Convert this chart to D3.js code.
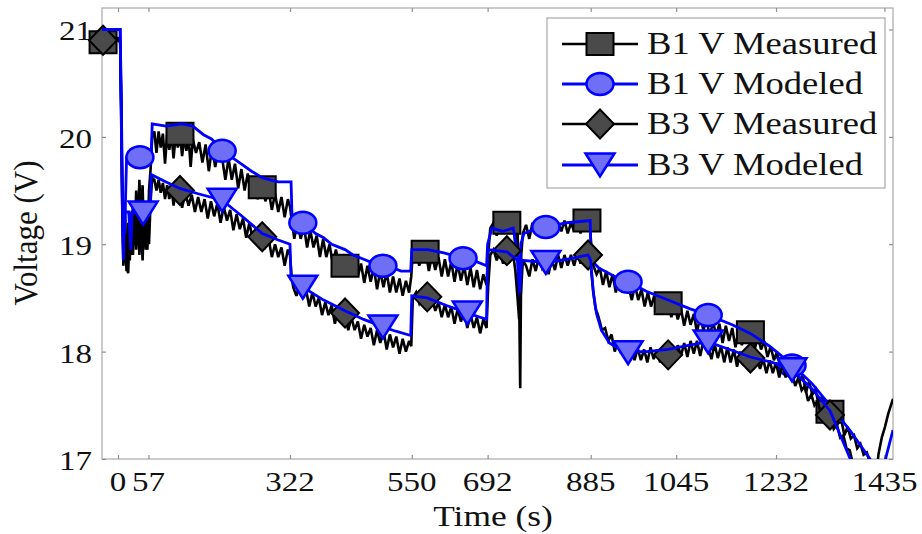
<!DOCTYPE html>
<html><head><meta charset="utf-8">
<script src="https://cdn.jsdelivr.net/npm/d3@7"></script>
<style>body{margin:0;background:#fff}svg{display:block}</style>
</head><body>
<script>
// ---------------- data ----------------
const xTicks = [0, 57, 322, 550, 692, 885, 1045, 1232, 1435];
const xTickLabels = ["0", "57", "322", "550", "692", "885", "1045", "1232", "1435"];
const yTicks = [17, 18, 19, 20, 21];
const seriesNames = ["B1 V Measured", "B1 V Modeled", "B3 V Measured", "B3 V Modeled"];

const b1Measured = [[-30,20.9],[-20,20.9],[-10,20.9],[0,20.92],[4,20.9],[6,20.3],[8,19.4],[10,18.9],[13,19.3],[16,18.8],[19,18.73],[22,19.2],[25,18.9],[28,19.4],[31,19.0],[34,19.5],[37,19.1],[40,19.6],[43,19.2],[46,19.55],[49,19.0],[52,19.4],[55,18.95],[58,19.5],[61,19.7],[64,20.0],[68,20.05],[72,19.85],[76,20.05],[80,19.9],[84,20.03],[88,19.75],[92,20.02],[96,19.88],[100,20.03],[104,19.8],[108,20.02],[112,19.9],[116,20.03],[120,19.82],[124,20.0],[128,19.87],[132,20.0],[136,19.72],[140,19.98],[146,19.85],[152,19.95],[158,19.76],[164,19.93],[170,19.68],[176,19.9],[182,19.72],[188,19.88],[195,19.8],[201,19.6],[207,19.8],[213,19.6],[219,19.75],[225,19.52],[231,19.7],[237,19.5],[243,19.66],[249,19.44],[255,19.6],[261,19.42],[270,19.53],[276,19.4],[282,19.5],[288,19.32],[294,19.47],[300,19.3],[306,19.44],[312,19.25],[318,19.42],[322,19.35],[326,19.2],[330,19.05],[336,19.2],[342,19.05],[348,19.17],[354,18.97],[360,19.13],[366,18.97],[372,19.08],[378,18.88],[384,19.05],[390,18.88],[396,19.0],[402,18.82],[408,18.95],[414,18.8],[420,18.9],[425,18.8],[431,18.88],[437,18.7],[443,18.85],[449,18.7],[455,18.82],[461,18.64],[467,18.8],[473,18.65],[479,18.78],[485,18.58],[491,18.75],[497,18.6],[503,18.74],[509,18.55],[515,18.7],[521,18.55],[527,18.68],[533,18.52],[539,18.66],[545,18.55],[549,18.7],[552,18.93],[558,18.95],[564,18.8],[570,18.92],[576,18.93],[582,18.75],[588,18.9],[594,18.76],[600,18.88],[606,18.7],[612,18.86],[618,18.7],[624,18.84],[630,18.65],[636,18.82],[642,18.66],[648,18.8],[654,18.62],[660,18.78],[666,18.6],[672,18.76],[678,18.58],[684,18.72],[690,18.62],[693,18.9],[697,19.15],[703,19.2],[709,19.08],[715,19.2],[721,19.1],[728,19.2],[734,19.12],[740,19.18],[744,19.0],[748,19.15],[751,18.5],[753,17.66],[755,18.9],[758,19.1],[764,19.18],[770,19.05],[776,19.2],[782,19.1],[788,19.22],[794,19.08],[800,19.2],[806,19.1],[812,19.22],[818,19.1],[824,19.2],[830,19.12],[836,19.22],[842,19.1],[848,19.2],[854,19.12],[860,19.22],[866,19.1],[872,19.22],[878,19.22],[884,19.15],[887,18.9],[890,18.8],[896,18.72],[902,18.78],[908,18.62],[914,18.75],[920,18.6],[926,18.72],[932,18.55],[938,18.68],[944,18.55],[950,18.66],[956,18.6],[962,18.48],[968,18.62],[974,18.48],[980,18.58],[986,18.42],[992,18.55],[998,18.42],[1004,18.52],[1010,18.36],[1016,18.5],[1022,18.38],[1030,18.45],[1036,18.32],[1042,18.44],[1048,18.3],[1054,18.4],[1060,18.24],[1066,18.38],[1072,18.25],[1078,18.35],[1084,18.18],[1090,18.33],[1096,18.2],[1102,18.3],[1108,18.14],[1114,18.28],[1120,18.15],[1126,18.26],[1132,18.08],[1138,18.24],[1144,18.1],[1150,18.22],[1156,18.04],[1162,18.2],[1168,18.06],[1174,18.17],[1180,18.1],[1186,18.18],[1192,18.02],[1198,18.14],[1204,18.02],[1210,18.1],[1216,17.95],[1222,18.05],[1228,17.92],[1234,18.0],[1240,17.84],[1246,17.95],[1252,17.82],[1258,17.9],[1264,17.74],[1270,17.84],[1276,17.72],[1282,17.78],[1288,17.62],[1294,17.72],[1300,17.6],[1306,17.65],[1312,17.5],[1318,17.58],[1324,17.46],[1330,17.5],[1336,17.36],[1342,17.44],[1348,17.33],[1354,17.37],[1360,17.22],[1366,17.3],[1372,17.19],[1378,17.22],[1384,17.1],[1390,17.14],[1396,17.04],[1402,17.06],[1408,16.96],[1414,16.98],[1420,16.88],[1424,17.05],[1430,17.2],[1436,17.3],[1442,17.42],[1451,17.56]];

const b1Modeled = [[-30,21.0],[4,21.0],[6,20.4],[8,19.6],[10,19.0],[12,18.85],[14,19.4],[16,19.8],[30,19.78],[45,19.8],[62,19.8],[64,20.12],[90,20.1],[120,20.12],[140,20.1],[160,20.02],[175,19.98],[195,19.88],[210,19.82],[230,19.75],[250,19.68],[270,19.62],[285,19.6],[300,19.58],[324,19.58],[326,19.22],[346,19.2],[370,19.1],[385,19.06],[400,19.0],[425,18.95],[440,18.9],[460,18.86],[480,18.82],[496,18.8],[515,18.78],[530,18.75],[548,18.75],[550,18.95],[580,18.95],[610,18.92],[646,18.87],[670,18.84],[690,18.8],[692,19.0],[700,19.15],[720,19.12],[740,19.15],[748,18.9],[752,18.4],[754,19.0],[760,19.1],[780,19.14],[801,19.16],[840,19.2],[884,19.22],[886,18.85],[900,18.78],[930,18.7],[955,18.65],[990,18.56],[1030,18.48],[1070,18.4],[1105,18.34],[1150,18.25],[1184,18.17],[1220,18.05],[1262,17.88],[1300,17.7],[1333,17.5],[1370,17.27],[1408,17.0],[1422,16.85],[1432,16.9],[1438,17.02],[1451,17.27]];

const b3Measured = [[-30,20.88],[-20,20.88],[-10,20.9],[0,20.9],[4,20.88],[6,20.2],[8,19.3],[10,18.8],[13,19.1],[16,18.75],[19,19.2],[22,18.85],[25,19.3],[28,18.9],[31,19.35],[34,18.95],[37,19.3],[40,18.9],[43,19.25],[46,18.85],[49,19.3],[52,18.95],[55,19.35],[58,19.0],[61,19.4],[64,19.62],[68,19.6],[72,19.5],[76,19.6],[80,19.48],[84,19.57],[88,19.42],[92,19.55],[96,19.42],[100,19.53],[104,19.36],[108,19.52],[112,19.4],[116,19.5],[120,19.34],[126,19.48],[132,19.36],[138,19.46],[144,19.3],[150,19.44],[156,19.3],[162,19.42],[168,19.24],[174,19.4],[180,19.26],[186,19.38],[192,19.2],[198,19.35],[204,19.22],[210,19.32],[216,19.13],[222,19.28],[228,19.14],[234,19.24],[240,19.06],[246,19.2],[252,19.05],[258,19.15],[264,18.98],[270,19.07],[276,18.98],[282,19.05],[288,18.88],[294,19.0],[300,18.88],[306,18.97],[312,18.8],[318,18.95],[322,18.9],[325,18.7],[328,18.6],[334,18.52],[340,18.62],[346,18.5],[352,18.58],[358,18.42],[364,18.55],[370,18.42],[376,18.5],[382,18.34],[388,18.46],[394,18.34],[400,18.43],[406,18.26],[412,18.4],[418,18.28],[425,18.36],[431,18.2],[437,18.32],[443,18.2],[449,18.28],[455,18.12],[461,18.25],[467,18.14],[473,18.22],[479,18.06],[485,18.2],[491,18.08],[497,18.2],[503,18.02],[509,18.16],[515,18.04],[521,18.14],[527,17.98],[533,18.12],[539,18.0],[545,18.1],[549,18.05],[552,18.5],[558,18.55],[564,18.45],[570,18.52],[576,18.5],[582,18.4],[588,18.5],[594,18.38],[600,18.46],[606,18.32],[612,18.44],[618,18.32],[624,18.42],[630,18.26],[636,18.4],[642,18.28],[648,18.37],[654,18.22],[660,18.35],[666,18.22],[672,18.32],[678,18.17],[684,18.3],[690,18.22],[693,18.6],[697,18.9],[703,18.95],[709,18.85],[715,18.93],[721,18.82],[728,18.94],[734,18.85],[740,18.9],[744,18.75],[748,18.5],[751,18.3],[755,18.6],[758,18.85],[764,18.8],[770,18.7],[776,18.86],[782,18.75],[788,18.88],[794,18.78],[800,18.85],[806,18.72],[812,18.86],[818,18.76],[824,18.9],[830,18.78],[836,18.9],[842,18.8],[848,18.9],[854,18.8],[860,18.92],[866,18.82],[872,18.92],[880,18.9],[884,18.85],[887,18.7],[890,18.55],[894,18.4],[898,18.35],[902,18.28],[906,18.2],[912,18.22],[918,18.1],[924,18.16],[930,18.0],[936,18.1],[942,17.98],[948,18.06],[955,17.98],[961,18.05],[967,17.92],[973,18.03],[979,17.92],[985,18.02],[991,17.9],[997,18.04],[1003,17.93],[1009,18.02],[1015,17.9],[1021,18.03],[1030,17.97],[1036,18.05],[1042,17.93],[1048,18.06],[1054,17.96],[1060,18.08],[1066,17.95],[1072,18.1],[1078,17.98],[1084,18.1],[1090,17.96],[1096,18.1],[1105,18.04],[1111,17.93],[1117,18.07],[1123,17.94],[1129,18.05],[1135,17.9],[1141,18.04],[1147,17.9],[1153,18.02],[1159,17.86],[1165,18.0],[1171,17.87],[1177,17.98],[1184,17.94],[1190,17.84],[1196,17.95],[1202,17.84],[1208,17.93],[1214,17.8],[1220,17.92],[1226,17.8],[1232,17.9],[1238,17.76],[1244,17.88],[1250,17.76],[1256,17.85],[1262,17.8],[1268,17.68],[1274,17.76],[1280,17.64],[1286,17.68],[1292,17.54],[1298,17.6],[1304,17.5],[1310,17.54],[1316,17.42],[1322,17.48],[1328,17.38],[1334,17.41],[1340,17.28],[1346,17.32],[1352,17.2],[1358,17.22],[1364,17.1],[1370,17.08],[1376,16.95],[1384,16.9]];

const b3Modeled = [[-30,21.0],[4,21.0],[6,20.2],[8,19.4],[10,18.85],[12,19.3],[20,19.3],[24,18.95],[26,19.3],[45,19.29],[60,19.3],[62,19.65],[90,19.58],[116,19.52],[150,19.47],[195,19.41],[230,19.27],[270,19.1],[300,19.04],[322,19.0],[324,18.68],[346,18.6],[385,18.48],[425,18.38],[460,18.3],[496,18.23],[520,18.19],[548,18.15],[550,18.52],[579,18.5],[615,18.43],[654,18.36],[690,18.3],[692,18.95],[728,18.93],[748,18.85],[752,18.55],[756,18.85],[801,18.83],[840,18.86],[880,18.9],[885,18.85],[890,18.55],[896,18.35],[905,18.2],[920,18.08],[940,18.02],[955,18.0],[990,18.0],[1030,18.02],[1070,18.06],[1105,18.09],[1145,18.02],[1184,17.95],[1225,17.9],[1262,17.83],[1300,17.65],[1333,17.45],[1371,17.0],[1390,16.8]];

// marker positions (time, volts)
const b1MeasuredMarkers = [[-28,20.88],[116,20.03],[270,19.53],[425,18.8],[575,18.93],[728,19.2],[878,19.22],[1030,18.45],[1184,18.18],[1333,17.44]];
const b1ModeledMarkers = [[41,19.81],[195,19.87],[346,19.2],[496,18.8],[646,18.87],[801,19.16],[955,18.65],[1105,18.34],[1262,17.87]];
const b3MeasuredMarkers = [[-28,20.9],[116,19.5],[270,19.07],[425,18.36],[579,18.51],[728,18.94],[880,18.9],[1030,17.97],[1184,17.94],[1333,17.41]];
const b3ModeledMarkers = [[47,19.29],[195,19.41],[346,18.6],[496,18.23],[654,18.36],[801,18.83],[955,17.99],[1105,18.09],[1262,17.83]];

// ---------------- chart ----------------
const W = 922, H = 534;
const svg = d3.select("body").append("svg").attr("width", W).attr("height", H);
const L = 102, R = 893, T = 8, B = 459;
const x = d3.scaleLinear().domain([-30, 1451]).range([L, R]);
const y = d3.scaleLinear().domain([17, 21.2]).range([B, T]);
const FONT = "'Liberation Serif','Times New Roman',serif";
const SX = 1.18;

// frame
svg.append("rect").attr("x", L).attr("y", T).attr("width", R - L).attr("height", B - T)
  .attr("fill", "#fff").attr("stroke", "#a8a8a8").attr("stroke-width", 1.2);

// axes via d3
const gx = svg.append("g").attr("transform", `translate(0,${B})`)
  .call(d3.axisBottom(x).tickValues(xTicks).tickSize(-4).tickFormat(""));
const gxt = svg.append("g").attr("transform", `translate(0,${T})`)
  .call(d3.axisTop(x).tickValues(xTicks).tickSize(-4).tickFormat(""));
const gy = svg.append("g").attr("transform", `translate(${L},0)`)
  .call(d3.axisLeft(y).tickValues(yTicks).tickSize(-4).tickFormat(""));
const gyr = svg.append("g").attr("transform", `translate(${R},0)`)
  .call(d3.axisRight(y).tickValues(yTicks).tickSize(-4).tickFormat(""));
[gx, gxt, gy, gyr].forEach(g => {
  g.select(".domain").remove();
  g.selectAll("line").attr("stroke", "#909090").attr("stroke-width", 1.2);
});

function stretchedText(parent, px, py, str, size, anchor, rot) {
  return parent.append("text")
    .attr("transform", `translate(${px},${py}) scale(${SX},1)` + (rot ? ` rotate(${rot})` : ""))
    .attr("font-family", FONT).attr("font-size", size).attr("fill", "#111")
    .attr("text-anchor", anchor).text(str);
}

// x tick labels
xTicks.forEach((v, i) => stretchedText(svg, x(v), 491, xTickLabels[i], 28, "middle"));
// y tick labels
yTicks.forEach(v => stretchedText(svg, 92, y(v) + 11, String(v), 28, "end"));
// axis titles
stretchedText(svg, 493, 526, "Time (s)", 30, "middle");
svg.append("text").attr("transform", `translate(37,233) scale(1.1,1) rotate(-90)`)
  .attr("font-family", FONT).attr("font-size", 31).attr("fill", "#111")
  .attr("text-anchor", "middle").text("Voltage (V)");

// clip for lines
svg.append("clipPath").attr("id", "clip").append("rect")
  .attr("x", L).attr("y", T).attr("width", R - L).attr("height", B - T);

const line = d3.line().x(d => x(d[0])).y(d => y(d[1]));

function markerPath(shape, w, h) {
  const a = w / 2, b = h / 2;
  if (shape === "square") return `M${-a},${-b}H${a}V${b}H${-a}Z`;
  if (shape === "diamond") return `M0,${-b}L${a},0L0,${b}L${-a},0Z`;
  if (shape === "triangle") return `M${-a},${-b}H${a}L0,${b}Z`;
  return `M${-a},0A${a},${b} 0 1,0 ${a},0A${a},${b} 0 1,0 ${-a},0Z`;
}
const styles = [
  {color: "#000", fill: "#4a4a4a", shape: "square", w: 27, h: 22, lw: 2.6, ms: 2},
  {color: "#0000ff", fill: "#6e6ef6", shape: "circle", w: 27, h: 22, lw: 2.8, ms: 2.5},
  {color: "#000", fill: "#4a4a4a", shape: "diamond", w: 28, h: 29, lw: 2.6, ms: 2},
  {color: "#0000ff", fill: "#6e6ef6", shape: "triangle", w: 29, h: 23, lw: 2.8, ms: 2.5}
];
const allSeries = [b1Measured, b1Modeled, b3Measured, b3Modeled];
const allMarkers = [b1MeasuredMarkers, b1ModeledMarkers, b3MeasuredMarkers, b3ModeledMarkers];

allSeries.forEach((s, i) => {
  const st = styles[i];
  svg.append("path").datum(s).attr("clip-path", "url(#clip)")
    .attr("d", line).attr("fill", "none").attr("stroke", st.color)
    .attr("stroke-width", st.lw).attr("stroke-linejoin", "miter").attr("stroke-miterlimit", 3);
  svg.append("g").selectAll("path").data(allMarkers[i]).join("path")
    .attr("transform", d => `translate(${x(d[0])},${y(d[1])})`)
    .attr("d", markerPath(st.shape, st.w, st.h))
    .attr("fill", st.fill).attr("stroke", st.color).attr("stroke-width", st.ms);
});

// legend
const lg = svg.append("g");
lg.append("rect").attr("x", 547).attr("y", 18).attr("width", 338).attr("height", 170)
  .attr("fill", "#fff").attr("stroke", "#a8a8a8").attr("stroke-width", 1.2);
const rowY = [44, 84, 124, 165];
seriesNames.forEach((name, i) => {
  const st = styles[i];
  lg.append("line").attr("x1", 562).attr("x2", 638).attr("y1", rowY[i]).attr("y2", rowY[i])
    .attr("stroke", st.color).attr("stroke-width", st.lw);
  lg.append("path").attr("transform", `translate(600,${rowY[i]})`)
    .attr("d", markerPath(st.shape, st.w, st.h))
    .attr("fill", st.fill).attr("stroke", st.color).attr("stroke-width", st.ms);
  stretchedText(lg, 647, rowY[i] + 10, name, 31, "start");
});
</script>
</body></html>
